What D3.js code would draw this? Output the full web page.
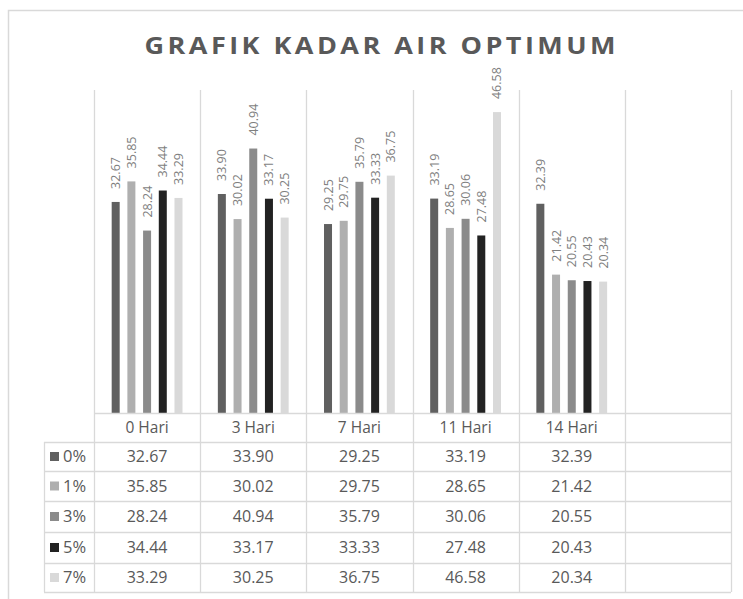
<!DOCTYPE html>
<html>
<head>
<meta charset="utf-8">
<script src="https://cdn.jsdelivr.net/npm/d3@7/dist/d3.min.js"></script>
<style>
  html, body { margin: 0; padding: 0; background: #fff; }
  svg { display: block; }
  text { font-family: "Open Sans", "Noto Sans", sans-serif; }
</style>
</head>
<body>
<svg id="chart" width="743" height="599"></svg>
<script>
// ---- data ----
const categories = ["0 Hari", "3 Hari", "7 Hari", "11 Hari", "14 Hari", ""];
const seriesNames = ["0%", "1%", "3%", "5%", "7%"];
const s0 = [32.67, 33.90, 29.25, 33.19, 32.39];
const s1 = [35.85, 30.02, 29.75, 28.65, 21.42];
const s3 = [28.24, 40.94, 35.79, 30.06, 20.55];
const s5 = [34.44, 33.17, 33.33, 27.48, 20.43];
const s7 = [33.29, 30.25, 36.75, 46.58, 20.34];
const seriesValues = [s0, s1, s3, s5, s7];
const seriesColors = ["#606060", "#afafaf", "#8b8b8b", "#222222", "#d9d9d9"];
const titleText = "GRAFIK KADAR AIR OPTIMUM";

// ---- layout ----
const svg = d3.select("#chart");
const plotLeft = 94, plotRight = 731, plotTop = 90, plotBottom = 413;
const tableLeft = 44;
const headerBottom = 442;
const rowEdges = [442, 471, 501, 532, 563, 592];
const gridColor = "#d9d9d9";
const textColor = "#595959";

// outer frame
svg.append("rect")
  .attr("x", 8.5).attr("y", 10.5)
  .attr("width", 800).attr("height", 700)
  .attr("fill", "none").attr("stroke", gridColor).attr("stroke-width", 1.5);

// title (slightly widened glyphs, as in the reference)
const titleScale = 1.2;
const tg0 = svg.append("g").attr("transform", `translate(380,53.5) scale(${titleScale},1)`);
const title = tg0.append("text")
  .attr("x", 0).attr("y", 0)
  .attr("text-anchor", "middle")
  .attr("font-size", 22.5).attr("font-weight", 700)
  .attr("fill", "#595959")
  .text(titleText);
{
  const target = 471 / titleScale;
  const w = title.node().getComputedTextLength();
  const ls = (target - w) / (titleText.length - 1);
  title.attr("letter-spacing", ls + "px").attr("x", ls / 2);
}

// scales
const x = d3.scaleBand().domain(categories).range([plotLeft, plotRight]).paddingInner(0).paddingOuter(0);
const y = d3.scaleLinear().domain([0, 50]).range([plotBottom, plotTop]);
const sx = d3.scalePoint().domain(seriesNames).range([-31.4, 31.4]);
const barW = 8;

// vertical gridlines (category boundaries)
const bounds = categories.map(c => x(c)).concat([plotRight]);
svg.append("g").selectAll("line").data(bounds).join("line")
  .attr("x1", d => Math.round(d) + 0.5).attr("x2", d => Math.round(d) + 0.5)
  .attr("y1", plotTop).attr("y2", headerBottom)
  .attr("stroke", gridColor).attr("stroke-width", 1.3);

// bars
const barData = [];
seriesNames.forEach((s, si) => {
  seriesValues[si].forEach((v, ci) => barData.push({ s, si, c: categories[ci], v }));
});
svg.append("g").selectAll("rect").data(barData).join("rect")
  .attr("x", d => x(d.c) + x.bandwidth() / 2 + sx(d.s) - barW / 2)
  .attr("y", d => y(d.v))
  .attr("width", barW)
  .attr("height", d => y(0) - y(d.v))
  .attr("fill", d => seriesColors[d.si]);

// rotated data labels
svg.append("g").selectAll("text").data(barData).join("text")
  .attr("transform", d => {
    const cx = x(d.c) + x.bandwidth() / 2 + sx(d.s) + 4.5;
    const cy = y(d.v) - 13;
    return `translate(${cx},${cy}) rotate(-90)`;
  })
  .attr("text-anchor", "start")
  .attr("font-size", 12.5)
  .attr("fill", "#7f7f7f")
  .text(d => d.v.toFixed(2));

// ---- data table ----
const tg = svg.append("g");
tg.append("line").attr("x1", plotLeft).attr("x2", plotRight)
  .attr("y1", plotBottom + 0.5).attr("y2", plotBottom + 0.5)
  .attr("stroke", gridColor).attr("stroke-width", 1.3);
tg.selectAll("line.row").data(rowEdges).join("line").attr("class", "row")
  .attr("x1", tableLeft).attr("x2", plotRight)
  .attr("y1", d => d + 0.5).attr("y2", d => d + 0.5)
  .attr("stroke", gridColor).attr("stroke-width", 1.3);
const tableVerts = [tableLeft].concat(bounds);
tg.selectAll("line.col").data(tableVerts).join("line").attr("class", "col")
  .attr("x1", d => Math.round(d) + 0.5).attr("x2", d => Math.round(d) + 0.5)
  .attr("y1", rowEdges[0]).attr("y2", rowEdges[rowEdges.length - 1])
  .attr("stroke", gridColor).attr("stroke-width", 1.3);

// header labels
tg.selectAll("text.cat").data(categories).join("text").attr("class", "cat")
  .attr("x", d => x(d) + x.bandwidth() / 2)
  .attr("y", (plotBottom + headerBottom) / 2)
  .attr("dy", "0.35em")
  .attr("text-anchor", "middle")
  .attr("font-size", 15.5)
  .attr("fill", textColor)
  .text(d => d);

// rows
seriesNames.forEach((s, si) => {
  const cy = (rowEdges[si] + rowEdges[si + 1]) / 2;
  tg.append("rect")
    .attr("x", 50).attr("y", cy - 4.5)
    .attr("width", 9).attr("height", 9)
    .attr("fill", seriesColors[si]);
  tg.append("text")
    .attr("x", 63).attr("y", cy).attr("dy", "0.35em")
    .attr("font-size", 16.5).attr("fill", textColor)
    .text(s);
  tg.selectAll(null).data(seriesValues[si]).join("text")
    .attr("x", (d, ci) => x(categories[ci]) + x.bandwidth() / 2)
    .attr("y", cy).attr("dy", "0.35em")
    .attr("text-anchor", "middle")
    .attr("font-size", 16).attr("fill", textColor)
    .text(d => d.toFixed(2));
});
</script>
</body>
</html>
